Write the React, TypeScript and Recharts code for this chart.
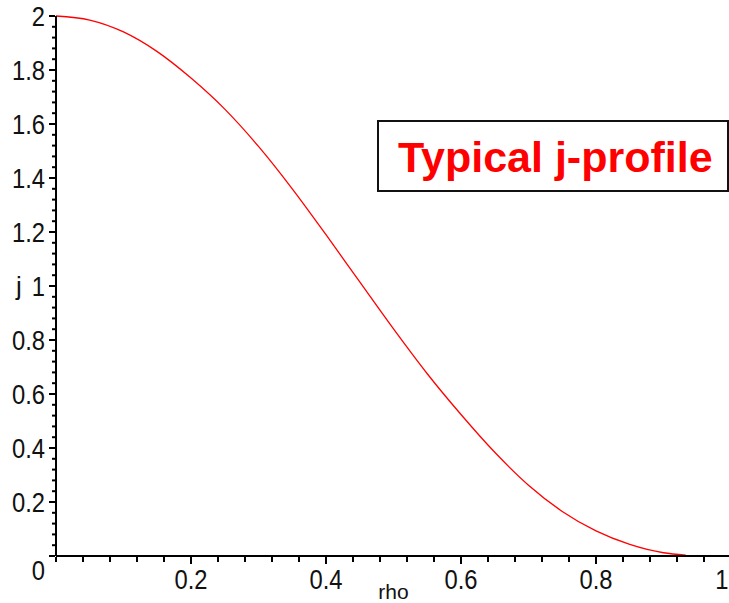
import React from 'react';
import { LineChart, Line, XAxis, YAxis, Label } from 'recharts';

// rho positions and j values
const RHO = [0, 0.05, 0.1, 0.15, 0.2, 0.25, 0.3, 0.35, 0.4, 0.45, 0.5, 0.55, 0.6, 0.65, 0.7, 0.75, 0.8, 0.85, 0.9, 0.933];
const J = [2.0, 1.985, 1.941, 1.868, 1.77, 1.655, 1.517, 1.36, 1.19, 1.015, 0.841, 0.675, 0.524, 0.384, 0.262, 0.165, 0.093, 0.043, 0.012, 0.003];

const X_LABELS = [0.2, 0.4, 0.6, 0.8, 1];
const Y_LABELS = [0, 0.2, 0.4, 0.6, 0.8, 1, 1.2, 1.4, 1.6, 1.8, 2];

// minor ticks every 0.04 on both axes
const X_TICKS = Array.from({ length: 26 }, (_, i) => +(i * 0.04).toFixed(2));
const Y_TICKS = Array.from({ length: 51 }, (_, i) => +(i * 0.04).toFixed(2));

const data = RHO.map((r, i) => ({ rho: r, j: J[i] }));

const FONT = '"Liberation Sans", Arial, sans-serif';

const isIn = (list: number[], v: number) => list.some((l) => Math.abs(l - v) < 1e-6);

const XTick = (props: any) => {
  const { x, y, payload } = props;
  const v = payload.value;
  const major = isIn(X_LABELS, v);
  // last label sits at the page edge, keep it inside
  const last = v === 1;
  return (
    <g>
      <line x1={x} x2={x} y1={y + 1} y2={y + (major ? 8 : 6)} stroke="#000" strokeWidth={2} />
      {major && (
        <text
          transform={`translate(${last ? 728.5 : x},${y + 33}) scale(0.85,1)`}
          textAnchor={last ? 'end' : 'middle'}
          fontSize={28}
          fontFamily={FONT}
          fill="#111"
        >
          {String(v)}
        </text>
      )}
    </g>
  );
};

const YTick = (props: any) => {
  const { x, y, payload } = props;
  const v = payload.value;
  const major = isIn(Y_LABELS, v);
  const dy = v === 0 ? 23.5 : 10;
  return (
    <g>
      <line x1={x - (major ? 7 : 4)} x2={x - 1} y1={y} y2={y} stroke="#000" strokeWidth={2} />
      {major && (
        <text transform={`translate(${x - 11},${y + dy}) scale(0.85,1)`} textAnchor="end" fontSize={28} fontFamily={FONT} fill="#111">
          {String(v)}
        </text>
      )}
    </g>
  );
};

export default function App() {
  return (
    <div style={{ position: 'absolute', left: 0, top: 0, width: 729, height: 603, overflow: 'hidden', background: '#fff' }}>
      <LineChart width={740} height={603} data={data} margin={{ top: 16, right: 9, bottom: 0, left: 0 }}>
        <XAxis
          dataKey="rho"
          type="number"
          domain={[0, 1]}
          ticks={X_TICKS}
          interval={0}
          tick={<XTick />}
          tickLine={false}
          tickSize={0}
          tickMargin={0}
          axisLine={{ stroke: '#000', strokeWidth: 2 }}
          height={47}
        >
          <Label value="rho" position="insideBottom" offset={4} fontSize={21} fontFamily={FONT} fill="#111" />
        </XAxis>
        <YAxis
          type="number"
          domain={[0, 2]}
          ticks={Y_TICKS}
          interval={0}
          tick={<YTick />}
          tickLine={false}
          tickSize={0}
          tickMargin={0}
          axisLine={{ stroke: '#000', strokeWidth: 2 }}
          width={56}
        >
          <Label value="j" position="insideLeft" offset={16} fontSize={26} fontFamily={FONT} fill="#111" />
        </YAxis>
        <Line
          dataKey="j"
          type="monotone"
          stroke="#ff0000"
          strokeWidth={1.3}
          dot={false}
          isAnimationActive={false}
        />
      </LineChart>
      <div
        style={{
          position: 'absolute',
          left: 377,
          top: 120,
          width: 352,
          height: 72,
          boxSizing: 'border-box',
          border: '2px solid #111',
          background: '#fff',
        }}
      >
        <span
          style={{
            position: 'absolute',
            left: 19,
            top: 14,
            fontFamily: FONT,
            fontWeight: 'bold',
            fontSize: 43,
            lineHeight: 1,
            color: '#ff0000',
            whiteSpace: 'nowrap',
          }}
        >
          Typical j-profile
        </span>
      </div>
    </div>
  );
}
